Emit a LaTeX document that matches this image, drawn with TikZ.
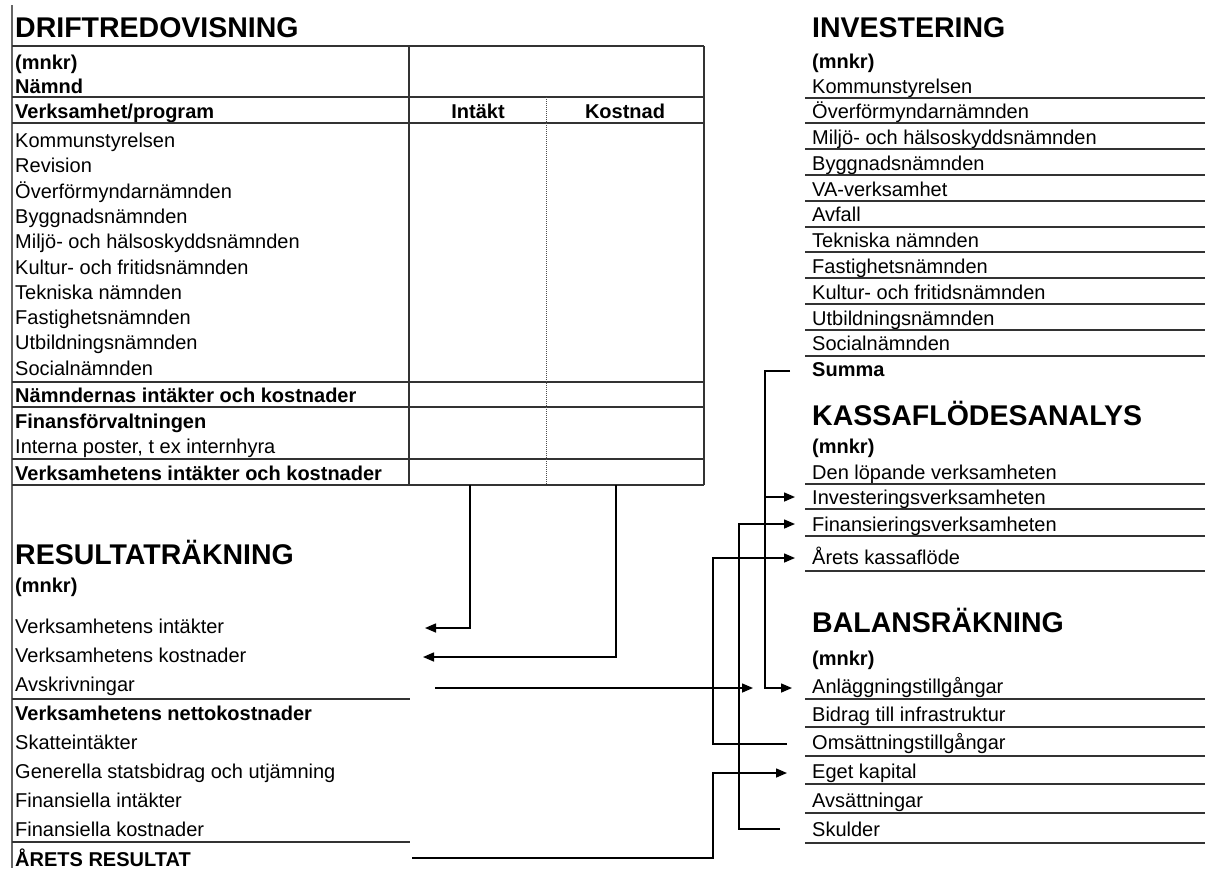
\documentclass[tikz,border=0pt]{standalone}
\usepackage{fontspec}
\setmainfont{Liberation Sans}
\usetikzlibrary{arrows.meta}

\begin{document}
\begin{tikzpicture}[x=1pt,y=-1pt,
    txt/.style={anchor=base west, inner sep=0pt, font=\fontsize{20}{24}\selectfont},
    bld/.style={txt, font=\fontsize{20}{24}\selectfont\bfseries},
    hdr/.style={txt, font=\fontsize{28.5}{32}\selectfont\bfseries},
    rule/.style={line width=2pt, black!80},
    conn/.style={line width=1.5pt},
    arr/.style={conn, -{Triangle[length=11pt,width=9pt]}}]
    \useasboundingbox (0,0) rectangle (1205,868);
    \draw[line width=1.5pt, black!60] (12,5) -- (12,868);

    % Driftredovisning
    \node[hdr] (dTitle) at (15,37) {DRIFTREDOVISNING};
    \node[bld] (dMnkr) at (15,69) {(mnkr)};
    \node[bld] (dNamnd) at (15,93) {Nämnd};
    \node[bld] (dProg) at (15,118) {Verksamhet/program};
    \node[bld, anchor=base] (dIntakt) at (478,118) {Intäkt};
    \node[bld, anchor=base] (dKostnad) at (625,118) {Kostnad};
    \node[txt] (dKs) at (15,147.5) {Kommunstyrelsen};
    \node[txt] (dRev) at (15,172.8) {Revision};
    \node[txt] (dOf) at (15,198.1) {Överförmyndarnämnden};
    \node[txt] (dBygg) at (15,223.4) {Byggnadsnämnden};
    \node[txt] (dMiljo) at (15,248.7) {Miljö- och hälsoskyddsnämnden};
    \node[txt] (dKultur) at (15,274) {Kultur- och fritidsnämnden};
    \node[txt] (dTekn) at (15,299.3) {Tekniska nämnden};
    \node[txt] (dFast) at (15,324.6) {Fastighetsnämnden};
    \node[txt] (dUtb) at (15,349.9) {Utbildningsnämnden};
    \node[txt] (dSoc) at (15,375.2) {Socialnämnden};
    \node[bld] (dSum) at (15,402) {Nämndernas intäkter och kostnader};
    \node[bld] (dFinans) at (15,428) {Finansförvaltningen};
    \node[txt] (dIntern) at (15,453) {Interna poster, t ex internhyra};
    \node[bld] (dTot) at (15,480) {Verksamhetens intäkter och kostnader};
    \draw[rule] (12,46) -- (704,46);
    \draw[rule] (12,97) -- (704,97);
    \draw[rule] (12,123) -- (704,123);
    \draw[rule] (12,382) -- (704,382);
    \draw[rule] (12,407) -- (704,407);
    \draw[rule] (12,459) -- (704,459);
    \draw[rule] (12,485) -- (704,485);
    \draw[rule] (409,46) -- (409,485);
    \draw[rule] (704,46) -- (704,485);
    \draw[line width=1pt, black!70, densely dotted] (546,97) -- (546,485);

    % Resultaträkning
    \node[hdr] (rTitle) at (15,564) {RESULTATRÄKNING};
    \node[bld] (rMnkr) at (15,592) {(mnkr)};
    \node[txt] (rIntakt) at (15,633) {Verksamhetens intäkter};
    \node[txt] (rKostnad) at (15,662) {Verksamhetens kostnader};
    \node[txt] (rAvskr) at (15,691) {Avskrivningar};
    \node[bld] (rNetto) at (15,720) {Verksamhetens nettokostnader};
    \node[txt] (rSkatt) at (15,749) {Skatteintäkter};
    \node[txt] (rGen) at (15,778) {Generella statsbidrag och utjämning};
    \node[txt] (rFinInt) at (15,807) {Finansiella intäkter};
    \node[txt] (rFinKost) at (15,836) {Finansiella kostnader};
    \node[bld] (rRes) at (15,866) {ÅRETS RESULTAT};
    \draw[rule] (12,699) -- (410,699);
    \draw[rule] (12,842) -- (410,842);

    % Investering
    \node[hdr] (iTitle) at (812,37) {INVESTERING};
    \node[bld] (iMnkr) at (812,68) {(mnkr)};
    \node[txt] (iKs) at (812,93) {Kommunstyrelsen};
    \node[txt] (iOf) at (812,118) {Överförmyndarnämnden};
    \node[txt] (iMiljo) at (812,144) {Miljö- och hälsoskyddsnämnden};
    \node[txt] (iBygg) at (812,170) {Byggnadsnämnden};
    \node[txt] (iVa) at (812,196) {VA-verksamhet};
    \node[txt] (iAvfall) at (812,221.5) {Avfall};
    \node[txt] (iTekn) at (812,247) {Tekniska nämnden};
    \node[txt] (iFast) at (812,273) {Fastighetsnämnden};
    \node[txt] (iKultur) at (812,299) {Kultur- och fritidsnämnden};
    \node[txt] (iUtb) at (812,325) {Utbildningsnämnden};
    \node[txt] (iSoc) at (812,350.5) {Socialnämnden};
    \node[bld] (iSumma) at (812,376) {Summa};
    \draw[rule] (805,97.5) -- (1205,97.5);
    \draw[rule] (805,123.3) -- (1205,123.3);
    \draw[rule] (805,149.1) -- (1205,149.1);
    \draw[rule] (805,174.9) -- (1205,174.9);
    \draw[rule] (805,200.7) -- (1205,200.7);
    \draw[rule] (805,226.5) -- (1205,226.5);
    \draw[rule] (805,252.3) -- (1205,252.3);
    \draw[rule] (805,278.1) -- (1205,278.1);
    \draw[rule] (805,303.9) -- (1205,303.9);
    \draw[rule] (805,329.7) -- (1205,329.7);
    \draw[rule] (805,355.5) -- (1205,355.5);

    % Kassaflödesanalys
    \node[hdr] (kTitle) at (812,425) {KASSAFLÖDESANALYS};
    \node[bld] (kMnkr) at (812,453) {(mnkr)};
    \node[txt] (kLop) at (812,479) {Den löpande verksamheten};
    \node[txt] (kInv) at (812,504) {Investeringsverksamheten};
    \node[txt] (kFin) at (812,531) {Finansieringsverksamheten};
    \node[txt] (kAret) at (812,564) {Årets kassaflöde};
    \draw[rule] (805,484) -- (1205,484);
    \draw[rule] (805,509) -- (1205,509);
    \draw[rule] (805,536) -- (1205,536);
    \draw[rule] (805,571) -- (1205,571);

    % Balansräkning
    \node[hdr] (bTitle) at (812,632) {BALANSRÄKNING};
    \node[bld] (bMnkr) at (812,665) {(mnkr)};
    \node[txt] (bAnl) at (812,693) {Anläggningstillgångar};
    \node[txt] (bBidrag) at (812,721) {Bidrag till infrastruktur};
    \node[txt] (bOms) at (812,749) {Omsättningstillgångar};
    \node[txt] (bEget) at (812,778) {Eget kapital};
    \node[txt] (bAvs) at (812,807) {Avsättningar};
    \node[txt] (bSkuld) at (812,836) {Skulder};
    \draw[rule] (805,699) -- (1205,699);
    \draw[rule] (805,727) -- (1205,727);
    \draw[rule] (805,756) -- (1205,756);
    \draw[rule] (805,784) -- (1205,784);
    \draw[rule] (805,813) -- (1205,813);
    \draw[rule] (805,843) -- (1205,843);

    % connector ends
    \coordinate (cIntakt) at (470,485);
    \coordinate (cKostnad) at (616,485);
    \coordinate (cRIntakt) at (425,628);
    \coordinate (cRKostnad) at (423,657);
    \coordinate (cAvskr) at (435,688);
    \coordinate (cRes) at (412,858);
    \coordinate (cSumma) at (790,371);
    \coordinate (cSumX) at (765,371);
    \coordinate (cInvJ) at (765,497);
    \coordinate (cInv) at (795,497);
    \coordinate (cFin) at (795,524);
    \coordinate (cAret) at (795,558);
    \coordinate (cAnlA) at (753,688);
    \coordinate (cAnlB) at (792,688);
    \coordinate (cOms) at (787,744);
    \coordinate (cOmsX) at (713,744);
    \coordinate (cEget) at (787,773);
    \coordinate (cResX) at (713,858);
    \coordinate (cSkuld) at (780,829);
    \coordinate (cSkuldX) at (739,829);

    \draw[arr] (cIntakt) |- (cRIntakt);
    \draw[arr] (cKostnad) |- (cRKostnad);
    \draw[arr] (cAvskr) -- (cAnlA);
    \draw[arr] (cSumma) -- (cSumX) |- (cAnlB);
    \draw[arr] (cInvJ) -- (cInv);
    \draw[arr] (cOms) -- (cOmsX) |- (cAret);
    \draw[arr] (cSkuld) -- (cSkuldX) |- (cFin);
    \draw[arr] (cRes) -- (cResX) |- (cEget);
\end{tikzpicture}
\end{document}
